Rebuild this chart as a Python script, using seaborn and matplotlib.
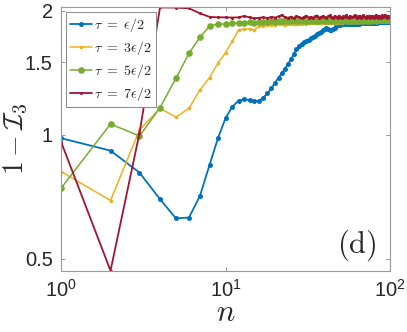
import numpy as np
import pandas as pd
import seaborn as sns
import matplotlib
matplotlib.use("Agg")
import matplotlib.pyplot as plt
from matplotlib.ticker import NullLocator, FixedLocator, FixedFormatter

# n = 1..100
n_values = list(range(1, 101))

tau_1 = [
    0.982, 0.916, 0.81, 0.698, 0.627, 0.63, 0.712, 0.846, 0.982, 1.098,
    1.171, 1.211, 1.22, 1.216, 1.207, 1.211, 1.232, 1.262, 1.298, 1.339,
    1.378, 1.412, 1.449, 1.487, 1.527, 1.571, 1.614, 1.645, 1.665, 1.68,
    1.692, 1.705, 1.718, 1.73, 1.742, 1.755, 1.768, 1.782, 1.795, 1.808,
    1.815, 1.81, 1.80, 1.798, 1.805, 1.82, 1.835, 1.845, 1.85, 1.852,
    1.855, 1.856, 1.855, 1.857, 1.858, 1.857, 1.859, 1.86, 1.86, 1.861,
    1.862, 1.861, 1.863, 1.864, 1.863, 1.865, 1.866, 1.865, 1.867, 1.868,
    1.868, 1.869, 1.87, 1.869, 1.871, 1.872, 1.871, 1.873, 1.874, 1.873,
    1.875, 1.876, 1.875, 1.877, 1.878, 1.877, 1.879, 1.88, 1.879, 1.88,
    1.881, 1.882, 1.881, 1.883, 1.884, 1.883, 1.884, 1.885, 1.885, 1.886,
]

tau_3 = [
    0.815, 0.693, 1.028, 1.161, 1.104, 1.161, 1.286, 1.378, 1.493, 1.584,
    1.69, 1.795, 1.81, 1.808, 1.80, 1.835, 1.842, 1.848, 1.85, 1.852,
    1.855, 1.858, 1.853, 1.86, 1.857, 1.862, 1.859, 1.864, 1.861, 1.866,
    1.863, 1.867, 1.865, 1.869, 1.866, 1.87, 1.868, 1.871, 1.869, 1.872,
    1.87, 1.873, 1.871, 1.874, 1.872, 1.875, 1.873, 1.876, 1.874, 1.877,
    1.875, 1.878, 1.876, 1.879, 1.877, 1.88, 1.878, 1.881, 1.879, 1.882,
    1.88, 1.883, 1.881, 1.884, 1.882, 1.885, 1.883, 1.886, 1.884, 1.887,
    1.885, 1.888, 1.886, 1.889, 1.887, 1.89, 1.888, 1.891, 1.889, 1.892,
    1.89, 1.893, 1.891, 1.894, 1.892, 1.895, 1.893, 1.896, 1.894, 1.897,
    1.895, 1.898, 1.896, 1.899, 1.897, 1.9, 1.898, 1.901, 1.899, 1.902,
]

tau_5 = [
    0.742, 1.063, 0.994, 1.165, 1.373, 1.579, 1.727, 1.839, 1.859, 1.859,
    1.87, 1.866, 1.875, 1.88, 1.872, 1.878, 1.885, 1.88, 1.887, 1.883,
    1.89, 1.886, 1.895, 1.888, 1.892, 1.897, 1.889, 1.894, 1.9, 1.891,
    1.896, 1.89, 1.898, 1.893, 1.902, 1.895, 1.889, 1.897, 1.904, 1.894,
    1.899, 1.892, 1.901, 1.896, 1.905, 1.893, 1.898, 1.903, 1.895, 1.9,
    1.891, 1.897, 1.906, 1.899, 1.894, 1.902, 1.896, 1.907, 1.898, 1.893,
    1.901, 1.897, 1.905, 1.895, 1.9, 1.908, 1.897, 1.903, 1.894, 1.899,
    1.906, 1.898, 1.902, 1.895, 1.909, 1.9, 1.896, 1.904, 1.898, 1.907,
    1.901, 1.896, 1.903, 1.899, 1.91, 1.897, 1.904, 1.9, 1.906, 1.898,
    1.905, 1.901, 1.908, 1.899, 1.903, 1.897, 1.909, 1.902, 1.905, 1.9,
]

tau_7 = [
    0.963, 0.468, 1.01, 2.04, 2.038, 2.03, 1.973, 1.935, 1.93, 1.93,
    1.928, 1.93, 1.945, 1.93, 1.918, 1.925, 1.93, 1.922, 1.935, 1.928,
    1.94, 1.955, 1.93, 1.925, 1.938, 1.922, 1.945, 1.93, 1.92, 1.935,
    1.948, 1.928, 1.936, 1.921, 1.942, 1.95, 1.927, 1.934, 1.945, 1.93,
    1.922, 1.94, 1.953, 1.932, 1.925, 1.944, 1.936, 1.928, 1.95, 1.933,
    1.924, 1.941, 1.935, 1.955, 1.93, 1.926, 1.946, 1.938, 1.929, 1.943,
    1.952, 1.931, 1.925, 1.94, 1.935, 1.948, 1.928, 1.937, 1.957, 1.932,
    1.924, 1.944, 1.936, 1.93, 1.95, 1.927, 1.94, 1.933, 1.946, 1.925,
    1.938, 1.955, 1.93, 1.942, 1.928, 1.947, 1.935, 1.924, 1.951, 1.937,
    1.93, 1.945, 1.958, 1.932, 1.94, 1.927, 1.949, 1.936, 1.944, 1.933,
]

labels = [r"$\tau\ =\ \epsilon/2$", r"$\tau\ =\ 3\epsilon/2$",
          r"$\tau\ =\ 5\epsilon/2$", r"$\tau\ =\ 7\epsilon/2$"]
colors = ["#0072BD", "#EDB120", "#77AC30", "#A2142F"]
marker_sizes = [3.6, 2.6, 4.8, 2.2]
line_widths = [1.3, 1.1, 1.1, 1.3]

y_ticks = [0.5, 1, 1.5, 2]
y_tick_labels = ["0.5", "1", "1.5", "2"]

sns.set_style("ticks")
plt.rcParams["font.family"] = ["Liberation Sans", "DejaVu Sans"]
plt.rcParams["mathtext.fontset"] = "cm"

fig = plt.figure(figsize=(4.07, 3.32), dpi=100)
ax = fig.add_axes([61 / 407, 1 - 270.7 / 332, 329 / 407, (270.7 - 7) / 332])

series = [tau_1, tau_3, tau_5, tau_7]
for vals, lab, col, ms, lw in zip(series, labels, colors, marker_sizes, line_widths):
    df = pd.DataFrame({"n": n_values, "val": vals})
    sns.lineplot(
        data=df, x="n", y="val", ax=ax, color=col, label=lab,
        marker="o", markersize=ms, markeredgewidth=0, linewidth=lw,
        estimator=None, clip_on=True,
    )

ax.set_xscale("log")
ax.set_yscale("log")
ax.set_xlim(1, 100)
ax.set_ylim(0.468, 2.045)

ax.yaxis.set_major_locator(FixedLocator(y_ticks))
ax.yaxis.set_major_formatter(FixedFormatter(y_tick_labels))
ax.yaxis.set_minor_locator(NullLocator())
ax.xaxis.set_minor_locator(NullLocator())
ax.set_xticks([1, 10, 100])

ax.tick_params(direction="in", top=True, right=True, length=3, width=0.6,
               colors="#888888", labelcolor="#262626", labelsize=14.5, pad=6)
for sp in ax.spines.values():
    sp.set_color("#999999")
    sp.set_linewidth(0.8)
    sp.set_visible(True)

ax.set_xlabel(r"$n$", fontsize=22, labelpad=-2)
ax.set_ylabel(r"$1-\mathcal{I}_3$", fontsize=20, labelpad=0)
ax.yaxis.set_label_coords(-0.095, 0.5)

ax.text(0.96, 0.03, r"$\mathrm{(d)}$", transform=ax.transAxes,
        ha="right", va="bottom", fontsize=22)

leg = ax.legend(loc="upper left", fontsize=10, frameon=True, fancybox=False,
                framealpha=1, edgecolor="#888888", handlelength=1.6,
                handletextpad=0.1, labelspacing=0.35, borderpad=0.3,
                borderaxespad=0.35)
leg.get_frame().set_linewidth(0.7)

fig.savefig("out.png", dpi=100)
plt.close(fig)
